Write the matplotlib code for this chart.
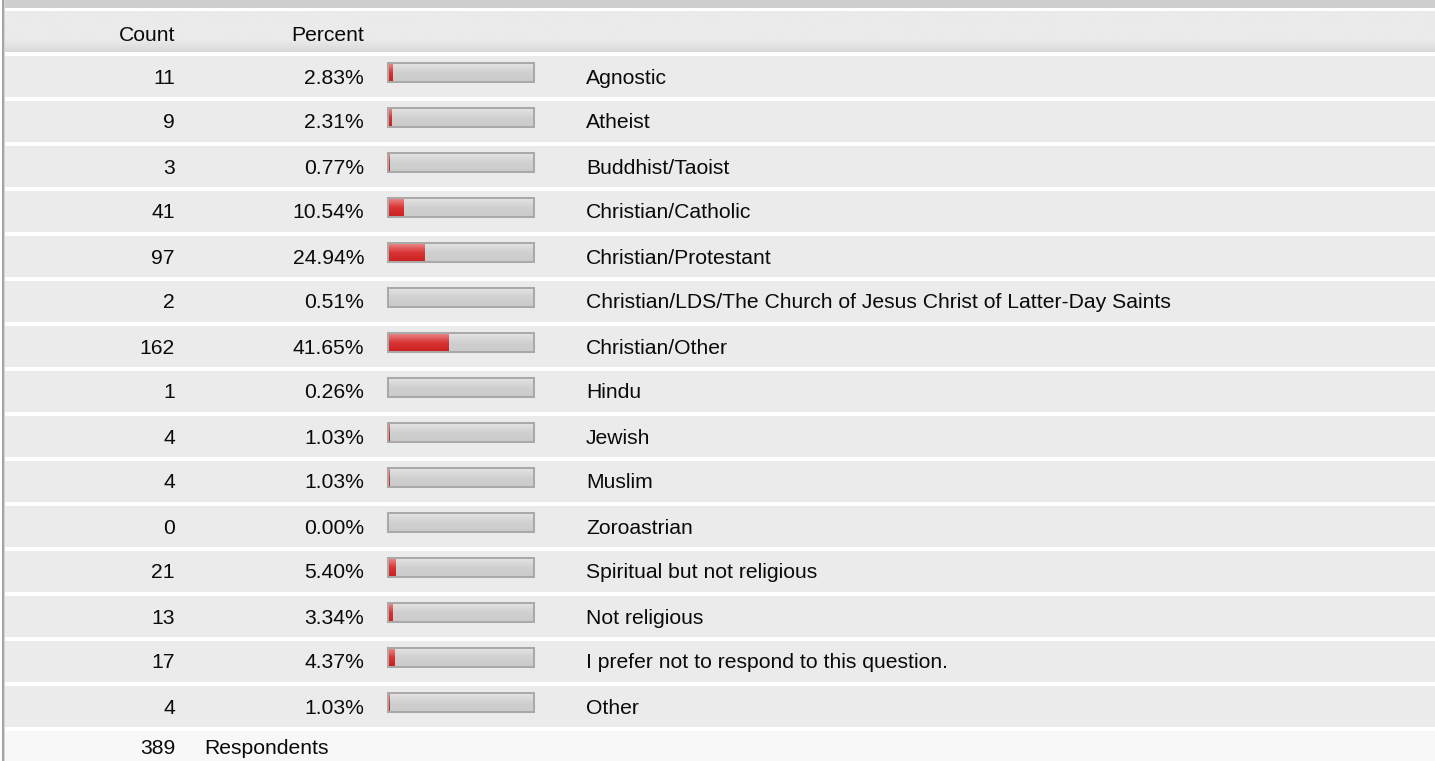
import numpy as np
import matplotlib
matplotlib.use("Agg")
import matplotlib.pyplot as plt
from matplotlib.patches import Rectangle
from matplotlib.colors import LinearSegmentedColormap

# survey data
labels = ["Agnostic", "Atheist", "Buddhist/Taoist", "Christian/Catholic",
          "Christian/Protestant",
          "Christian/LDS/The Church of Jesus Christ of Latter-Day Saints",
          "Christian/Other", "Hindu", "Jewish", "Muslim", "Zoroastrian",
          "Spiritual but not religious", "Not religious",
          "I prefer not to respond to this question.", "Other"]
counts = [11, 9, 3, 41, 97, 2, 162, 1, 4, 4, 0, 21, 13, 17, 4]
percents = [2.83, 2.31, 0.77, 10.54, 24.94, 0.51, 41.65, 0.26, 1.03, 1.03,
            0.00, 5.40, 3.34, 4.37, 1.03]
respondents = 389

W, H = 1435, 761
FS = 15.2
TXT = "#0a0a0a"
plt.rcParams['font.family'] = ['Liberation Sans', 'DejaVu Sans']
fig = plt.figure(figsize=(W / 100, H / 100), dpi=100)

# background axes in pixel coordinates
bg = fig.add_axes([0, 0, 1, 1])
bg.set_xlim(0, W)
bg.set_ylim(H, 0)
bg.axis("off")

bg.add_patch(Rectangle((5, 0), W, 7.5, color="#cfcfcf", lw=0))
bg.add_patch(Rectangle((2, 0), 2.2, H, color="#a4a4a4", lw=0))
bg.add_patch(Rectangle((4.2, 0), 1, H, color="#d6d6d6", lw=0))

# header row with a soft gradient at the bottom
hdr = np.linspace(0, 1, 64).reshape(-1, 1)
hdr_col = np.clip((hdr - 0.7) / 0.3, 0, 1)
hdr_cmap = LinearSegmentedColormap.from_list("hdr", ["#ebebeb", "#d9d9d9"])
bg.imshow(hdr_col, cmap=hdr_cmap, vmin=0, vmax=1, aspect="auto",
          extent=(5.2, W, 51.7, 11), zorder=1)
bg.text(175, 40.7, "Count", ha="right", va="baseline", fontsize=FS, color=TXT)
bg.text(364, 40.7, "Percent", ha="right", va="baseline", fontsize=FS, color=TXT)

row_top, row_h, pitch = 56, 41, 45
for i in range(len(labels)):
    y0 = row_top + pitch * i
    bg.add_patch(Rectangle((5.2, y0), W, row_h, color="#ebebeb", lw=0))
    yb = y0 + 27.5
    bg.text(175, yb, str(counts[i]), ha="right", va="baseline", fontsize=FS, color=TXT)
    bg.text(364, yb, f"{percents[i]:.2f}%", ha="right", va="baseline", fontsize=FS, color=TXT)
    bg.text(586, yb, labels[i], ha="left", va="baseline", fontsize=FS, color=TXT)

last = row_top + pitch * len(labels)
bg.add_patch(Rectangle((5.2, last), W, H - last, color="#f8f8f8", lw=0))
bg.text(175, last + 22.5, str(respondents), ha="right", va="baseline", fontsize=FS, color=TXT)
bg.text(204, last + 22.5, "Respondents", ha="left", va="baseline", fontsize=FS, color=TXT)

# bar axes: x in percent, y in row index
bx0, bw = 388, 146
ax = fig.add_axes([bx0 / W, 0, bw / W, 1])
bar_c0 = 72.5
ax.axis("off")
ax.patch.set_alpha(0)

ypos = np.arange(len(labels))
bh = 19 / pitch
grad = np.linspace(0, 1, 64).reshape(-1, 1)
gray_cmap = LinearSegmentedColormap.from_list("g", ["#e4e4e4", "#d0d0d0", "#cbcbcb"])
red_cmap = LinearSegmentedColormap.from_list("r", ["#ec8a8a", "#d83434", "#cc1f1f"])

frames = ax.barh(ypos, [100] * len(ypos), height=bh, color="#d4d4d4", lw=0, zorder=2)
fills = ax.barh(ypos, percents, height=bh, color="#d22a2a", lw=0, zorder=4)

for fr, fl, y in zip(frames, fills, ypos):
    ext = (0, 100, y + bh / 2, y - bh / 2)
    im = ax.imshow(grad, cmap=gray_cmap, aspect="auto", extent=ext, zorder=3)
    im.set_clip_path(fr)
    if fl.get_width() > 0:
        im2 = ax.imshow(grad, cmap=red_cmap, aspect="auto", extent=ext, zorder=5)
        im2.set_clip_path(fl)
    # frame edge on top
    ax.add_patch(Rectangle((0, y - bh / 2), 100, bh, fill=False,
                           edgecolor="#a9a9a9", lw=1.45, zorder=6,
                           clip_on=False))

ax.set_xlim(0, 100)
ax.set_ylim((H - bar_c0) / pitch, -bar_c0 / pitch)

fig.savefig("out.png", dpi=100)
